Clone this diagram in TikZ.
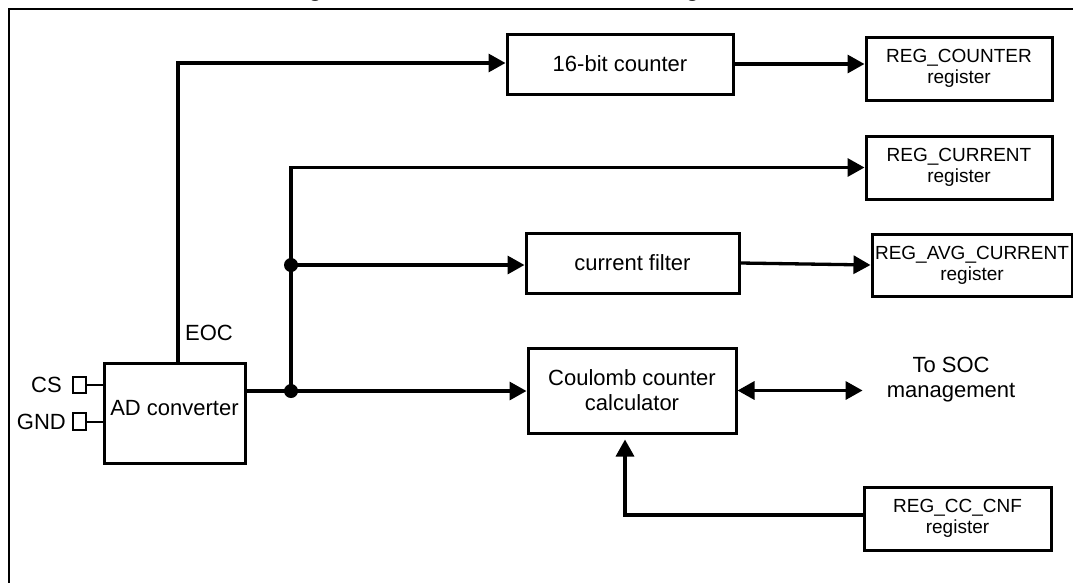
\documentclass[tikz,border=0pt]{standalone}
\usepackage{fontspec}
\setmainfont{Liberation Sans}
\usetikzlibrary{arrows.meta,calc}
\begin{document}
\begin{tikzpicture}[x=1pt,y=-1pt,
  box/.style={draw,line width=3pt,inner sep=0pt,align=center},
  blk/.style={box,font=\fontsize{22}{25}\selectfont},
  reg/.style={box,font=\fontsize{19}{21}\selectfont},
  txt/.style={inner sep=0pt,align=center,font=\fontsize{22}{25}\selectfont},
  pinbox/.style={draw,line width=2pt,inner sep=0pt,minimum width=13pt},
  wire/.style={line width=3.3pt},
  pinwire/.style={line width=2pt},
  arr/.style={wire,-{Triangle[length=17pt,width=18pt]}},
  dbl/.style={wire,{Triangle[length=17pt,width=18pt]}-{Triangle[length=17pt,width=18pt]}},
  dot/.style={fill=black}
]
\useasboundingbox (0,0) rectangle (1073,582);
\clip (0,0) rectangle (1073,582);

% title (cut off at the top) and frame
\node[anchor=base west,inner sep=0pt,font=\bfseries\fontsize{22.8}{26}\selectfont] (title) at (288,-4) {Figure 3. Coulomb counter block diagram};
\draw[line width=2.8pt] (9,9) rectangle (1100,620);

% blocks
\node[box,minimum width=141pt,minimum height=100pt] (ad) at (174.5,413) {};
\node[txt] (adt) at ([yshift=5pt]ad.center) {AD converter};
\node[blk,minimum width=226pt,minimum height=60pt] (cnt) at (620,64) {16-bit counter};
\node[blk,minimum width=213pt,minimum height=60pt] (filt) at (632.5,263) {current filter};
\node[blk,minimum width=208pt,minimum height=85pt] (cc) at (632,390.5) {Coulomb counter\\calculator};
\node[reg,minimum width=186pt,minimum height=63pt] (rcnt) at (959,68.5) {REG\_COUNTER\\register};
\node[reg,minimum width=186pt,minimum height=63pt] (rcur) at (959,167.5) {REG\_CURRENT\\register};
\node[reg,minimum width=200pt,minimum height=62pt] (ravg) at (972,265) {REG\_AVG\_CURRENT\\register};
\node[reg,minimum width=187pt,minimum height=63pt] (rcnf) at (957.5,518.5) {REG\_CC\_CNF\\register};
\node[txt] (soct) at (951,380) {To SOC\\management};

% pins
\node[pinbox,minimum height=16pt] (cs) at (79.5,385) {};
\node[pinbox,minimum height=17pt] (gnd) at (79.5,421.5) {};
\draw[pinwire] (cs.east) -- (cs.east -| ad.west);
\draw[pinwire] (gnd.east) -- (gnd.east -| ad.west);
\node[txt,anchor=east] (cst) at ([xshift=-10pt]cs.west) {CS};
\node[txt,anchor=east] (gndt) at ([xshift=-6pt]gnd.west) {GND};

% EOC path
\coordinate (eoc) at (178,63);
\draw[arr] (ad.north -| eoc) -- (eoc) -- (eoc -| cnt.west);
\node[txt,anchor=west] (eoct) at (185,333) {EOC};
\draw[arr] (cnt.east) -- (cnt.east -| rcnt.west);

% bus
\coordinate (b1) at (291,265);
\coordinate (b2) at (291,391);
\draw[arr] (b2) -- (b2 |- rcur.west) -- (rcur.west);
\draw[arr] (b1) -- (b1 -| filt.west);
\draw[arr] (ad.east |- b2) -- (b2 -| cc.west);
\fill[dot] (b1) circle (7);
\fill[dot] (b2) circle (7);
\draw[arr] (filt.east) -- (ravg.west);

% SOC
\coordinate (socend) at ($(soct.west |- cc.east)+(-24,0)$);
\draw[dbl] (cc.east) -- (socend);

% config
\coordinate (cfx) at (625,515);
\draw[arr,shorten >=5pt] (rcnf.west |- cfx) -- (cfx) -- (cfx |- cc.south);
\end{tikzpicture}
\end{document}
